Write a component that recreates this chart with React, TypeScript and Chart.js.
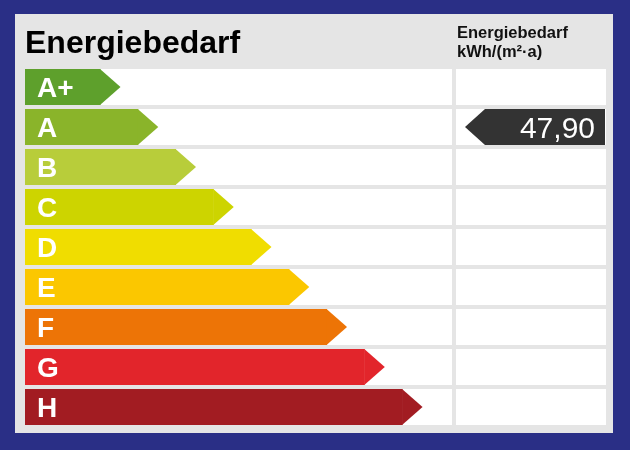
import React, { useEffect, useRef } from "react";
import { Chart, registerables } from "chart.js";

Chart.register(...registerables);

const classes = ["A+", "A", "B", "C", "D", "E", "F", "G", "H"];
const barLengths = [2, 3, 4, 5, 6, 7, 8, 9, 10];
const classColors = [
  "#5ea02c",
  "#8ab42a",
  "#b8cd3a",
  "#cdd400",
  "#f0dd00",
  "#fbc700",
  "#ed7406",
  "#e2252b",
  "#a21c22",
];
// upper limits of the classes in kWh/(m²·a)
const classUpperLimits = [30, 50, 75, 100, 130, 160, 200, 250, Infinity];
const energyValue = 47.9;
const valueLabel = "47,90";
const mainTitle = "Energiebedarf";
const sideTitle = ["Energiebedarf", "kWh/(m²·a)"];

const FONT = "'Liberation Sans', Arial, Helvetica, sans-serif";

export default function App() {
  const ref = useRef<HTMLCanvasElement | null>(null);

  useEffect(() => {
    const canvas = ref.current;
    if (!canvas) return;

    const labelPlugin = {
      id: "energyLabel",
      beforeDraw(chart: any) {
        const ctx = chart.ctx;
        const area = chart.chartArea;
        const y = chart.scales.y;
        ctx.save();
        ctx.fillStyle = "#2a2f86";
        ctx.fillRect(0, 0, chart.width, chart.height);
        ctx.fillStyle = "#e5e5e5";
        ctx.fillRect(15, 14, 598, 419);
        const half = (y.getPixelForValue(1) - y.getPixelForValue(0)) * 0.45;
        ctx.fillStyle = "#ffffff";
        classes.forEach((_, i) => {
          const cy = y.getPixelForValue(i);
          ctx.fillRect(area.left, cy - half, area.right - area.left, half * 2);
          ctx.fillRect(area.right + 4, cy - half, 150, half * 2);
        });
        ctx.restore();
      },
      afterDatasetsDraw(chart: any) {
        const ctx = chart.ctx;
        const area = chart.chartArea;
        const meta = chart.getDatasetMeta(0);
        ctx.save();
        meta.data.forEach((bar: any, i: number) => {
          const top = bar.y - bar.height / 2;
          const bottom = bar.y + bar.height / 2;
          ctx.fillStyle = classColors[i];
          ctx.beginPath();
          ctx.moveTo(bar.x - 0.5, top);
          ctx.lineTo(bar.x + 20, bar.y);
          ctx.lineTo(bar.x - 0.5, bottom);
          ctx.closePath();
          ctx.fill();
          ctx.fillStyle = "#ffffff";
          ctx.font = `bold 28px ${FONT}`;
          ctx.textAlign = "left";
          ctx.textBaseline = "alphabetic";
          ctx.fillText(classes[i], bar.base + 12, bar.y + 9.5);
        });

        // marker for the value
        const idx = classUpperLimits.findIndex((l) => energyValue < l);
        const b = meta.data[idx];
        const top = b.y - b.height / 2;
        const bottom = b.y + b.height / 2;
        const tipX = area.right + 13;
        const rectX = tipX + 20;
        const rightX = area.right + 153;
        ctx.fillStyle = "#333333";
        ctx.beginPath();
        ctx.moveTo(tipX, b.y);
        ctx.lineTo(rectX, top);
        ctx.lineTo(rightX, top);
        ctx.lineTo(rightX, bottom);
        ctx.lineTo(rectX, bottom);
        ctx.closePath();
        ctx.fill();
        ctx.fillStyle = "#ffffff";
        ctx.font = `30px ${FONT}`;
        ctx.textAlign = "right";
        ctx.fillText(valueLabel, rightX - 10, b.y + 10.5);
        ctx.restore();
      },
      afterDraw(chart: any) {
        const ctx = chart.ctx;
        const area = chart.chartArea;
        ctx.save();
        ctx.fillStyle = "#000000";
        ctx.textAlign = "left";
        ctx.textBaseline = "alphabetic";
        ctx.font = `bold 32px ${FONT}`;
        ctx.fillText(mainTitle, area.left, 53);
        ctx.fillStyle = "#111111";
        ctx.font = `bold 16.5px ${FONT}`;
        ctx.fillText(sideTitle[0], area.right + 5, 38);
        ctx.fillText(sideTitle[1], area.right + 5, 57);
        ctx.restore();
      },
    };

    const chart = new Chart(canvas, {
      type: "bar",
      data: {
        labels: classes,
        datasets: [
          {
            data: barLengths,
            backgroundColor: classColors,
            borderWidth: 0,
            barPercentage: 0.9,
            categoryPercentage: 1,
          },
        ],
      },
      options: {
        indexAxis: "y",
        responsive: false,
        animation: false,
        devicePixelRatio: 1,
        layout: { padding: { left: 25, right: 178, top: 67, bottom: 23 } },
        scales: {
          x: { display: false, min: 0, max: 11.31 },
          y: { display: false },
        },
        plugins: {
          legend: { display: false },
          tooltip: { enabled: false },
          title: { display: false },
        },
      },
      plugins: [labelPlugin],
    });
    return () => chart.destroy();
  }, []);

  return (
    <div style={{ position: "absolute", left: 0, top: 0, width: 630, height: 450 }}>
      <canvas ref={ref} width={630} height={450} style={{ display: "block" }} />
    </div>
  );
}
